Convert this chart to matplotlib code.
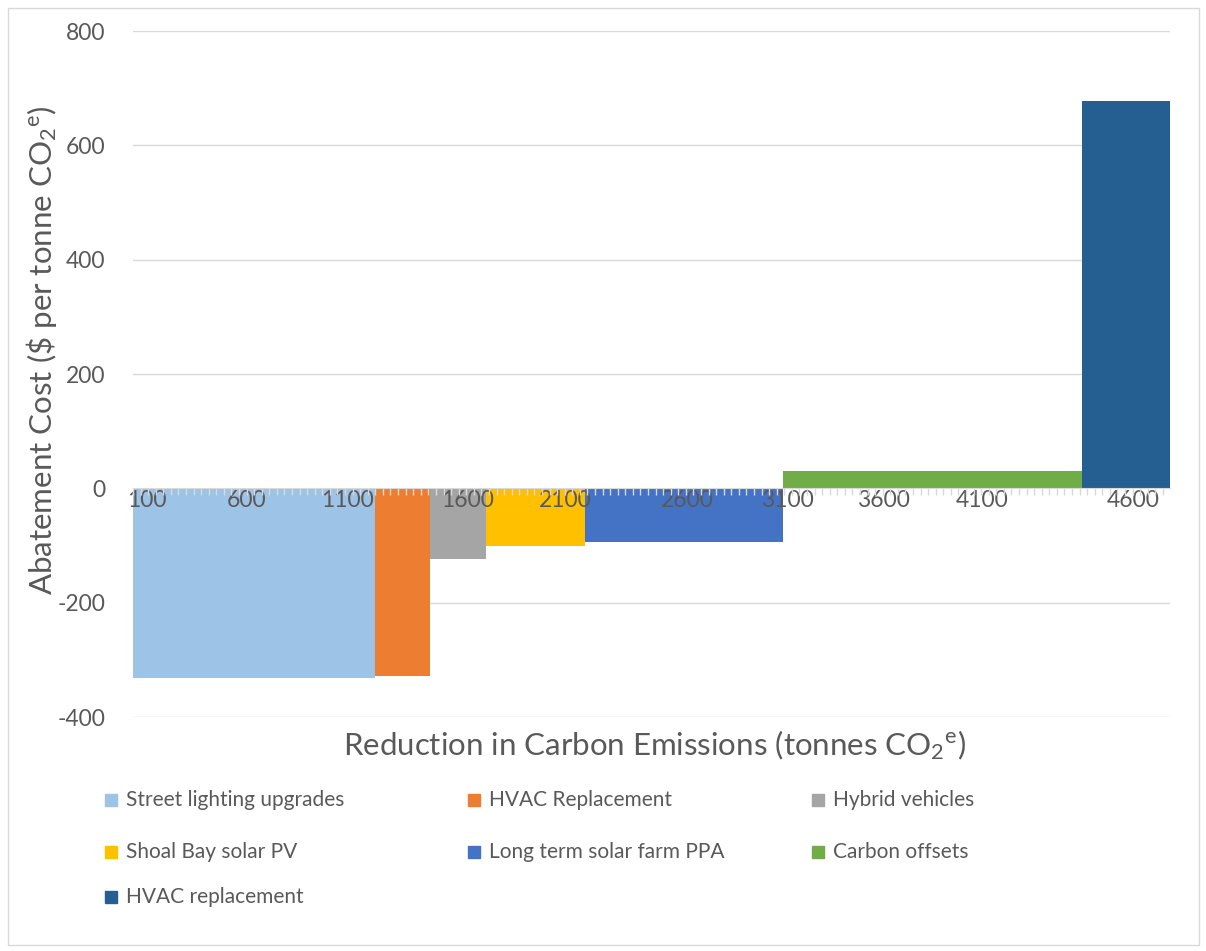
import matplotlib
matplotlib.use("Agg")
import matplotlib.pyplot as plt
import numpy as np
from matplotlib.patches import Rectangle
from matplotlib.ticker import MultipleLocator

plt.rcParams["font.family"] = ["Lato", "DejaVu Sans"]
plt.rcParams["mathtext.fontset"] = "custom"
plt.rcParams["mathtext.rm"] = "Lato"
plt.rcParams["mathtext.it"] = "Lato:italic"
plt.rcParams["axes.unicode_minus"] = False

# measures, in order along the curve
measures = ["Street lighting upgrades", "HVAC Replacement", "Hybrid vehicles",
            "Shoal Bay solar PV", "Long term solar farm PPA", "Carbon offsets",
            "HVAC replacement"]
reduction = [1150, 260, 270, 470, 940, 1420, 420]   # tonnes CO2e
cost = [-332, -328, -124, -101, -94, 31, 678]       # $ per tonne
colors = ["#9DC3E6", "#ED7D31", "#A5A5A5", "#FFC000", "#4472C4", "#70AD47", "#255E91"]

tick_labels = ["100", "600", "1100", "1600", "2100", "2600", "3100", "3600", "4100", "4600"]
tick_pos = [67, 542, 1018, 1588, 2054, 2634, 3110, 3566, 4037, 4755]

grey = "#595959"
fig = plt.figure(figsize=(12.06, 9.51), dpi=100)
ax = fig.add_axes([0.1103, 0.246, 0.8599, 0.7214])

starts = np.concatenate([[0], np.cumsum(reduction)[:-1]])
ax.bar(starts, cost, width=reduction, align="edge", color=colors, zorder=1)

ax.set_xlim(0, sum(reduction))
ax.set_ylim(-400, 800)
ax.set_yticks(range(-400, 801, 200))
for y in range(-400, 801, 200):
    if y != 0:
        ax.axhline(y, color="#d9d9d9", lw=1, zorder=0)
ax.set_axisbelow(False)

for s in ["top", "right", "left"]:
    ax.spines[s].set_visible(False)
ax.spines["bottom"].set_position(("data", 0))
ax.spines["bottom"].set_color("#d9d9d9")

ax.set_xticks(tick_pos)
ax.set_xticklabels(tick_labels)
ax.xaxis.set_minor_locator(MultipleLocator(36))
ax.tick_params(axis="x", which="major", length=0, pad=1, labelsize=16.5, labelcolor=grey)
ax.tick_params(axis="x", which="minor", length=5, color="#d9d9d9", width=1)
ax.tick_params(axis="y", length=0, pad=20, labelsize=16.5, labelcolor=grey)

fig.text(0.034, 0.632, r"Abatement Cost (\$ per tonne CO$_2$$^{\mathrm{e}}$)", rotation=90,
         ha="center", va="center", fontsize=22.5, color=grey)
fig.text(0.543, 0.2166, r"Reduction in Carbon Emissions (tonnes CO$_2$$^{\mathrm{e}}$)",
         ha="center", va="center", fontsize=22.5, color=grey)

# legend, laid out in three columns
col_x = [105, 468, 812]
row_y = [800, 852, 897]
W, H = 1206, 951
for i, (name, c) in enumerate(zip(measures, colors)):
    x = col_x[i % 3]
    y = row_y[i // 3]
    fig.patches.append(Rectangle((x / W, 1 - (y + 6) / H), 12 / W, 12 / H,
                                 transform=fig.transFigure, color=c))
    fig.text((x + 21) / W, 1 - y / H, name, ha="left", va="center",
             fontsize=15, color=grey)

fig.patches.append(Rectangle((8 / W, 1 - 945 / H), 1191 / W, 937 / H,
                             transform=fig.transFigure, fill=False,
                             edgecolor="#d9d9d9", lw=1))

fig.savefig("out.png", dpi=100)
